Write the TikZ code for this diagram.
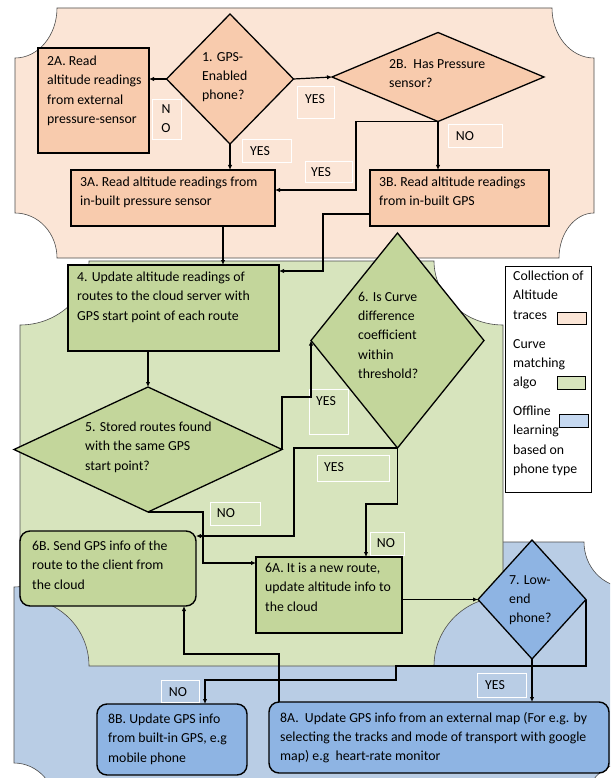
\documentclass[tikz,border=0pt]{standalone}
\usepackage{fontspec}
\setmainfont{Carlito}
\usetikzlibrary{shapes.geometric,arrows.meta}
\definecolor{pbg}{HTML}{FBE5D6}
\definecolor{pbox}{HTML}{F8CBAD}
\definecolor{gbg}{HTML}{D7E4BD}
\definecolor{gbox}{HTML}{C3D69B}
\definecolor{bbg}{HTML}{B9CDE5}
\definecolor{bbox}{HTML}{8EB4E3}
\definecolor{bsw}{HTML}{C6D9F1}
\begin{document}
\begin{tikzpicture}[x=1pt,y=-1pt,
  plaque/.style={draw=black!70, line width=0.6pt},
  boxr/.style={draw, line width=1.4pt, inner sep=0, outer sep=0, anchor=north west, rectangle},
  rbox/.style={boxr, rounded corners=10pt},
  dia/.style={draw, line width=1.3pt, diamond, inner sep=0, outer sep=0},
  txt/.style={inner sep=0, anchor=north west, align=left, font=\fontsize{13.8}{19.2}\selectfont},
  lbl/.style={inner sep=0, font=\fontsize{13.8}{19.2}\selectfont},
  lblbox/.style={draw=white, line width=0.8pt},
  arr/.style={draw, line width=1.2pt, -{Latex[length=5pt,width=4.5pt]}},
  sw/.style={draw, line width=0.6pt}
]
\useasboundingbox (0,0) rectangle (610,778);
\clip (0,0) rectangle (610,778);
\fill[white] (0,0) rectangle (610,778);
% blue plaque
\filldraw[plaque, fill=bbg] (56,542) -- (584,542) .. controls (584,566.8) and (602.8,587) .. (626,587) -- (626,763) .. controls (602.8,763) and (584,783.2) .. (584,808) -- (56,808) .. controls (56,783.2) and (37.2,763) .. (14,763) -- (14,587) .. controls (37.2,587) and (56,566.8) .. (56,542) -- cycle;
% green plaque
\filldraw[plaque, fill=gbg] (89,261) -- (434,261) .. controls (434,296) and (465,325) .. (503,325) -- (503,597) .. controls (465,597) and (434,628) .. (434,666) -- (89,666) .. controls (89,628) and (58,598) .. (20,598) -- (20,325) .. controls (58,325) and (89,296) .. (89,261) -- cycle;
% peach plaque
\filldraw[plaque, fill=pbg] (57,8) -- (552,8) .. controls (552,35.6) and (570.8,58) .. (594,58) -- (594,213) .. controls (575,213) and (559,233) .. (559,258) -- (57,258) .. controls (57,233) and (38.2,213) .. (15,213) -- (15,58) .. controls (38.2,58) and (57,35.6) .. (57,8) -- cycle;

% ---- nodes ----
\node[boxr, fill=pbox, minimum width=111pt, minimum height=105pt] (b2a) at (38,48) {};
\node[dia, fill=pbox, minimum width=127pt, minimum height=130pt] (d1) at (230,79) {};
\node[dia, fill=pbox, minimum width=212pt, minimum height=89pt] (d2b) at (438,77) {};
\node[boxr, fill=pbox, minimum width=204pt, minimum height=56pt] (b3a) at (71,170) {};
\node[boxr, fill=pbox, minimum width=179pt, minimum height=56pt] (b3b) at (370,170) {};
\node[boxr, fill=gbox, minimum width=211pt, minimum height=86pt] (b4) at (68,265) {};
\node[dia, fill=gbox, minimum width=268pt, minimum height=125pt] (d5) at (148,449.5) {};
\node[dia, fill=gbox, minimum width=173pt, minimum height=215pt] (d6) at (397.5,340.5) {};
\node[rbox, fill=gbox, minimum width=176pt, minimum height=75pt] (b6b) at (20,531) {};
\node[boxr, fill=gbox, minimum width=146pt, minimum height=76pt] (b6a) at (256,557) {};
\node[dia, fill=bbox, minimum width=108pt, minimum height=119pt] (d7) at (532,599.5) {};
\node[rbox, fill=bbox, minimum width=150pt, minimum height=71pt] (b8b) at (97,704) {};
\node[rbox, fill=bbox, minimum width=340pt, minimum height=71pt] (b8a) at (269,702) {};

% ---- texts ----
\node[txt] (t2a) at (47,56) {2A. Read\\altitude readings\\from external\\pressure-sensor};
\node[txt] (t1) at (202,52) {1. GPS-\\Enabled\\phone?};
\node[txt] (t2b) at (389,59) {2B.\ \ Has Pressure\\sensor?};
\node[txt] (t3a) at (80,177) {3A. Read altitude readings from\\in-built pressure sensor};
\node[txt] (t3b) at (379,177) {3B. Read altitude readings\\from in-built GPS};
\node[txt] (t4) at (77,272) {4. Update altitude readings of\\routes to the cloud server with\\GPS start point of each route};
\node[txt] (t5) at (85,422) {5. Stored routes found\\with the same GPS\\start point?};
\node[txt] (t6) at (358,292) {6. Is Curve\\difference\\coefficient\\within\\threshold?};
\node[txt] (t6b) at (32,541) {6B. Send GPS info of the\\route to the client from\\the cloud};
\node[txt] (t6a) at (265,563) {6A. It is a new route,\\update altitude info to\\the cloud};
\node[txt] (t7) at (509,575) {7. Low-\\end\\phone?};
\node[txt] (t8b) at (108,714) {8B. Update GPS info\\from built-in GPS, e.g\\mobile phone};
\node[txt] (t8a) at (280,712) {8A.\ \ Update GPS info from an external map (For e.g. by\\selecting the tracks and mode of transport with google\\map) e.g\ \ heart-rate monitor};

% ---- labels ----
\draw[lblbox] (152,99) rectangle (181,139);
\node[lbl, align=center] (lno1) at (166,119) {N\\O};
\draw[lblbox] (297,86) rectangle (334,118);
\node[lbl] (lyes1) at (315,99) {YES};
\draw[lblbox] (242,139) rectangle (291,162);
\node[lbl] (lyes2) at (260,151) {YES};
\draw[lblbox] (305,161) rectangle (352,182);
\node[lbl] (lyes3) at (321,172) {YES};
\draw[lblbox] (448,124) rectangle (502,147);
\node[lbl] (lno2) at (465,136) {NO};
\draw[lblbox] (309,389) rectangle (348,434);
\node[lbl] (lyes4) at (326,401) {YES};
\draw[lblbox] (317,455) rectangle (389,481);
\node[lbl] (lyes5) at (334,467) {YES};
\draw[lblbox] (210,502) rectangle (260,525);
\node[lbl] (lno3) at (226,513) {NO};
\draw[lblbox] (370,532) rectangle (404,555);
\node[lbl] (lno4) at (386,543) {NO};
\draw[lblbox] (161,680) rectangle (199,702);
\node[lbl] (lno5) at (178,692) {NO};
\draw[lblbox] (477,673) rectangle (526,697);
\node[lbl] (lyes6) at (495,685) {YES};

% ---- legend ----
\node[draw, line width=0.8pt, fill=white, anchor=north west, inner sep=0, minimum width=86pt, minimum height=226pt] (leg) at (505,266) {};
\node[txt] (lg1) at (513,271) {Collection of\\Altitude\\traces};
\node[txt] (lg2) at (513,339) {Curve\\matching\\algo};
\node[txt] (lg3) at (513,406) {Offline\\learning\\based on\\phone type};
\node[sw, fill=pbg, anchor=north west, minimum width=29pt, minimum height=12pt, inner sep=0] (s1) at (557,312) {};
\node[sw, fill=gbg, anchor=north west, minimum width=28pt, minimum height=13pt, inner sep=0] (s2) at (557,376) {};
\node[sw, fill=bsw, anchor=north west, minimum width=29pt, minimum height=13pt, inner sep=0] (s3) at (559,414) {};

% ---- connectors ----
\draw[arr] (d1.west) -- (d1.west -| b2a.east);
\draw[arr] (d1.east) -- (d2b.west);
\draw[arr] (d1.south) -- (d1.south |- b3a.north);
\draw[arr] (d2b.south) -- (d2b.south |- b3b.north);
\coordinate (c1) at (356,190);
\draw[arr] (d2b.south) -| (c1) -- (c1 -| b3a.east);
\draw[arr] (b3a.south -| 223,0) -- (b4.north -| 223,0);
\coordinate (c2) at (323,271);
\draw[arr] (b3b.west |- 0,214) -| (c2) -- (c2 -| b4.east);
\draw[arr] (b4.south -| d5.north) -- (d5.north);
\draw[arr] (d5.east) -- (d5.east |- 0,397) -| (d6.west);
\coordinate (c3) at (294,536);
\draw[arr] (d6.south) -| (c3) -- (c3 -| b6b.east);
\draw[arr] (d6.south) -- (d6.south |- 0,504) -| (b6a.north -| 366,0);
\coordinate (c4) at (203,563);
\draw[arr] (d5.south) -| (c4) -- (c4 -| b6a.west);
\draw[arr] (d7.west -| b6a.east) -- (d7.west);
\draw[arr] (d7.south) -- (d7.south |- b8a.north);
\draw[arr] (d7.east) -- (d7.east |- 0,666) -- (396,666) -- (396,680) -| (b8b.north -| 205,0);
\draw[arr] (b8a.north -| 279,0) -- (279,654) -| (b6b.south -| 184,0);
\end{tikzpicture}
\end{document}
